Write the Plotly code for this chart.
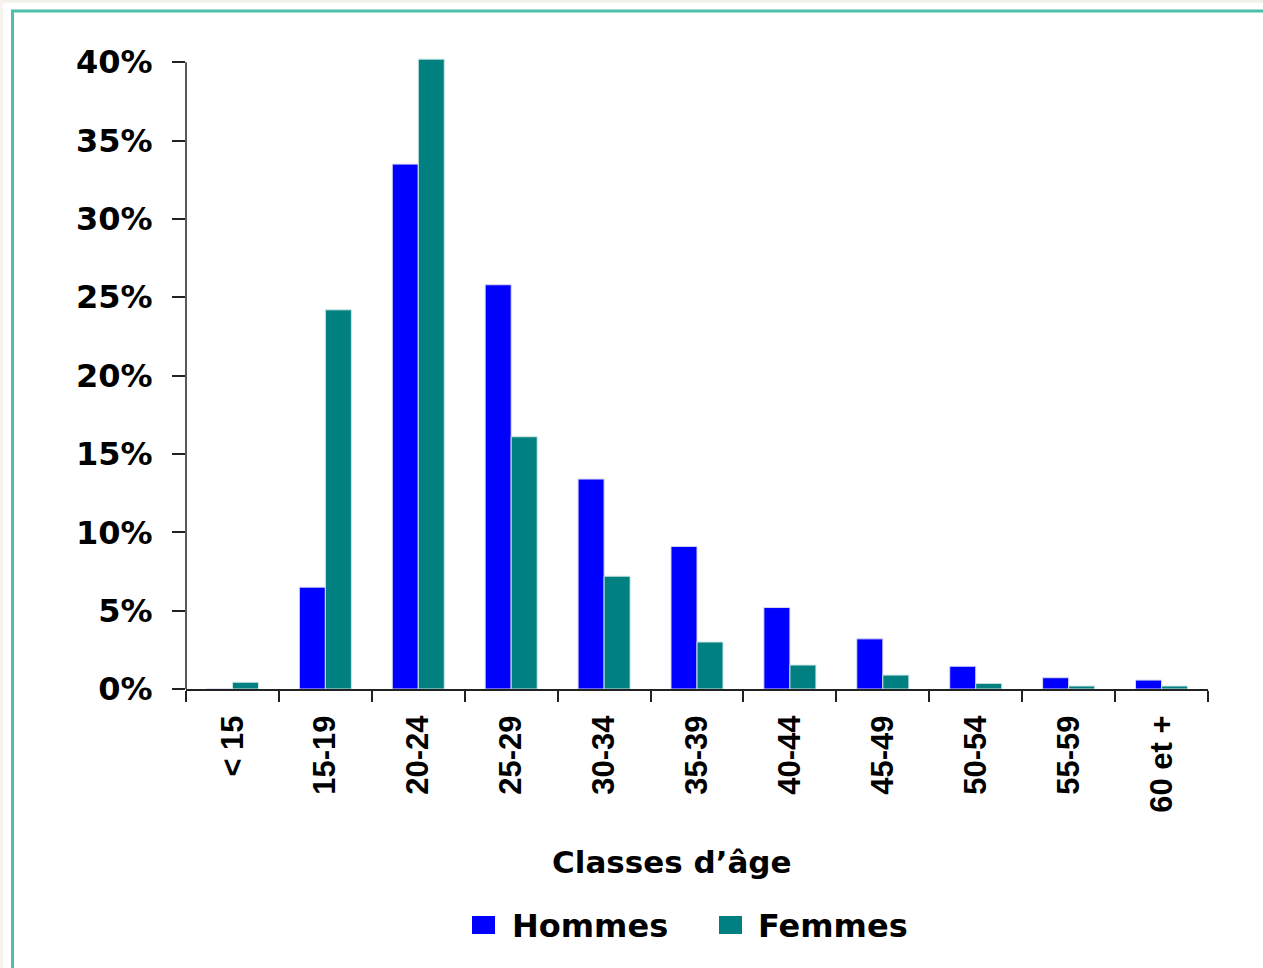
import plotly.graph_objects as go

categories = ["< 15", "15-19", "20-24", "25-29", "30-34", "35-39",
              "40-44", "45-49", "50-54", "55-59", "60 et +"]
hommes = [0.0, 6.5, 33.5, 25.8, 13.4, 9.1, 5.2, 3.2, 1.45, 0.72, 0.57]
femmes = [0.43, 24.2, 40.2, 16.1, 7.2, 3.0, 1.53, 0.89, 0.36, 0.19, 0.19]
y_ticks = [0, 5, 10, 15, 20, 25, 30, 35, 40]
y_tick_labels = [f"{v}%" for v in y_ticks]
y_top = 40.4

W, H = 1263, 968
PX_PER_UNIT = 627 / 40
L, R, B = 186, 55, 279
T = round(62 - (y_top - 40) * PX_PER_UNIT)
PW, PH = W - L - R, H - T - B


def px(x):
    return (x - L) / PW


def py(y):
    return (H - B - y) / PH


BOLD = "DejaVu Sans"
NARROW = "Liberation Sans Narrow, Liberation Sans, sans-serif"

fig = go.Figure()
fig.add_trace(go.Bar(name="Hommes", x=categories, y=hommes,
                     marker=dict(color="#0000FF", line=dict(color="#d8d8f0", width=1)),
                     cliponaxis=False, showlegend=False))
fig.add_trace(go.Bar(name="Femmes", x=categories, y=femmes,
                     marker=dict(color="#008080", line=dict(color="#cfe6e6", width=1)),
                     cliponaxis=False, showlegend=False))

fig.update_layout(
    width=W, height=H,
    margin=dict(l=L, r=R, t=T, b=B),
    paper_bgcolor="white", plot_bgcolor="white",
    barmode="group", bargap=0.44, bargroupgap=0.0,
    font=dict(family=BOLD, color="black"),
    xaxis=dict(
        type="category", tickson="boundaries", ticks="outside", ticklen=11,
        tickcolor="#222", tickwidth=1.5, showline=True, linecolor="#222", linewidth=2,
        showgrid=False, tickangle=-90, ticklabelstandoff=12,
        tickfont=dict(family=NARROW, size=31, weight="bold", color="black"),
        range=[-0.5, len(categories) - 0.5],
    ),
    yaxis=dict(
        range=[0, y_top], tickvals=y_ticks, ticktext=y_tick_labels,
        ticks="outside", ticklen=13, tickcolor="#222", tickwidth=1.5,
        showline=False, showgrid=False,
        zeroline=False, ticklabelstandoff=13,
        tickfont=dict(family=BOLD, size=32, weight="bold", color="black"),
    ),
)

# y axis line ending at the top tick
fig.add_shape(type="line", xref="paper", yref="y", x0=0, x1=0,
              y0=0, y1=y_ticks[-1], line=dict(color="#222", width=1.5))

# axis title
fig.add_annotation(x=px(672), y=py(862), xref="paper", yref="paper",
                   text="Classes d’âge", showarrow=False,
                   font=dict(family=BOLD, size=31, weight="bold", color="black"),
                   xanchor="center", yanchor="middle")

# legend (drawn manually for large swatches)
legend_items = [("Hommes", "#0000FF", 472, 510), ("Femmes", "#008080", 719, 756)]
for name, color, sx, tx in legend_items:
    fig.add_shape(type="rect", xref="paper", yref="paper",
                  x0=px(sx), x1=px(sx + 23), y0=py(934), y1=py(916),
                  fillcolor=color, line=dict(width=0))
    fig.add_annotation(x=px(tx), y=py(926), xref="paper", yref="paper",
                       text=name, showarrow=False, xanchor="left", yanchor="middle",
                       font=dict(family=BOLD, size=32, weight="bold", color="black"))

# page frame
fig.add_shape(type="rect", xref="paper", yref="paper",
              x0=px(0), x1=px(W), y0=py(0), y1=py(2.5),
              fillcolor="#f3efea", line=dict(width=0), layer="below")
fig.add_shape(type="rect", xref="paper", yref="paper",
              x0=px(0), x1=px(3), y0=py(0), y1=py(H),
              fillcolor="#f7f2ee", line=dict(width=0), layer="below")
fig.add_shape(type="line", xref="paper", yref="paper",
              x0=px(11), x1=px(W), y0=py(11), y1=py(11),
              line=dict(color="#4dbfaa", width=3))
fig.add_shape(type="line", xref="paper", yref="paper",
              x0=px(12.5), x1=px(12.5), y0=py(10), y1=py(H),
              line=dict(color="#4dbfaa", width=3))

fig.write_html("out.html")
